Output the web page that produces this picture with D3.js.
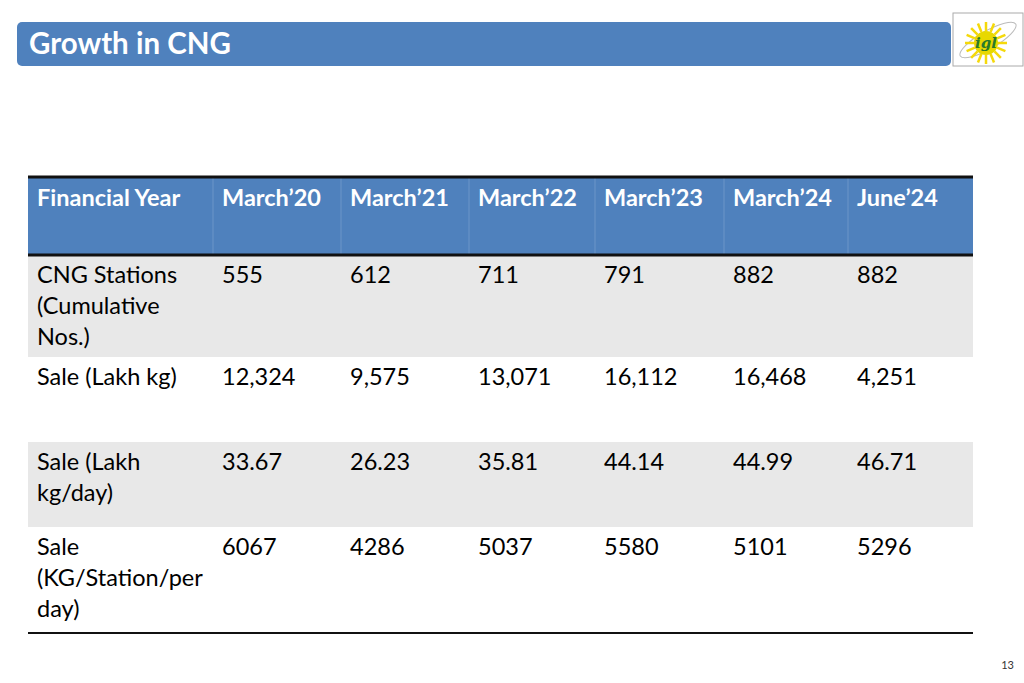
<!DOCTYPE html>
<html><head><meta charset="utf-8">
<script src="https://cdn.jsdelivr.net/npm/d3@7"></script>
<style>body{margin:0;background:#fff}svg{display:block;font-family:Lato,"Open Sans",sans-serif}</style>
</head><body>
<script>
// table content
const headers = ["Financial Year", "March\u201920", "March\u201921", "March\u201922", "March\u201923", "March\u201924", "June\u201924"];
const rowLabels = [["CNG Stations", "(Cumulative", "Nos.)"], ["Sale (Lakh kg)"], ["Sale (Lakh", "kg/day)"], ["Sale", "(KG/Station/per", "day)"]];
const stations = ["555", "612", "711", "791", "882", "882"];
const saleLakhKg = ["12,324", "9,575", "13,071", "16,112", "16,468", "4,251"];
const saleLakhKgDay = ["33.67", "26.23", "35.81", "44.14", "44.99", "46.71"];
const salePerStation = ["6067", "4286", "5037", "5580", "5101", "5296"];
const rows = [stations, saleLakhKg, saleLakhKgDay, salePerStation];

const svg = d3.select("body").append("svg").attr("width", 1024).attr("height", 683);

// title bar
svg.append("rect").attr("x", 17).attr("y", 22).attr("width", 934).attr("height", 44)
  .attr("rx", 5).attr("fill", "#4f81bd");
svg.append("text").attr("x", 29).attr("y", 54).attr("fill", "#fff")
  .attr("font-size", 29.5).attr("font-weight", "bold").text("Growth in CNG");

// logo
const logo = svg.append("g").attr("transform", "translate(953,13)");
logo.append("rect").attr("width", 70).attr("height", 53).attr("fill", "#fff").attr("stroke", "#aaa");
logo.append("ellipse").attr("cx", 35).attr("cy", 27).attr("rx", 32).attr("ry", 9)
  .attr("transform", "rotate(-30,35,27)").attr("fill", "none").attr("stroke", "#bbb");
d3.range(16).forEach(i => {
  const a = i / 16 * 2 * Math.PI;
  logo.append("line").attr("x1", 33 + Math.cos(a) * 12).attr("y1", 30 + Math.sin(a) * 12)
    .attr("x2", 33 + Math.cos(a) * 21).attr("y2", 30 + Math.sin(a) * 21)
    .attr("stroke", "#f5d90a").attr("stroke-width", 2.5);
});
logo.append("circle").attr("cx", 33).attr("cy", 30).attr("r", 12).attr("fill", "#e8d800");
logo.append("text").attr("x", 33).attr("y", 35).attr("text-anchor", "middle")
  .attr("font-size", 15).attr("font-style", "italic").attr("font-weight", "bold")
  .attr("font-family", "DejaVu Serif").attr("fill", "#2a7a2a").text("igl");

// table geometry
const colEdges = [28, 213, 341, 469, 595, 724, 848, 973];
const rowEdges = [178, 255, 357, 442, 527, 633];
const rowFill = ["#4f81bd", "#e8e8e8", "#fff", "#e8e8e8", "#fff"];

rowFill.forEach((f, i) => {
  svg.append("rect").attr("x", colEdges[0]).attr("y", rowEdges[i])
    .attr("width", colEdges[7] - colEdges[0]).attr("height", rowEdges[i + 1] - rowEdges[i]).attr("fill", f);
});
// header column dividers
colEdges.slice(1, 7).forEach(x => {
  svg.append("line").attr("x1", x).attr("x2", x).attr("y1", 178).attr("y2", 255)
    .attr("stroke", "#6d95c8").attr("stroke-width", 1);
});
[[177, 3], [255, 3], [633, 2]].forEach(([y, w]) => {
  svg.append("line").attr("x1", 28).attr("x2", 973).attr("y1", y).attr("y2", y)
    .attr("stroke", "#111").attr("stroke-width", w);
});

headers.forEach((h, i) => {
  svg.append("text").attr("x", colEdges[i] + 9).attr("y", 206).attr("fill", "#fff")
    .attr("font-size", 23.5).attr("font-weight", "bold").text(h);
});

rows.forEach((vals, r) => {
  const y0 = rowEdges[r + 1] + 28;
  rowLabels[r].forEach((t, k) => {
    svg.append("text").attr("x", colEdges[0] + 9).attr("y", y0 + k * 31)
      .attr("font-size", 23.5).attr("fill", "#000").text(t);
  });
  vals.forEach((v, c) => {
    svg.append("text").attr("x", colEdges[c + 1] + 9).attr("y", y0)
      .attr("font-size", 23.5).attr("fill", "#000").text(v);
  });
});

svg.append("text").attr("x", 1014).attr("y", 669).attr("text-anchor", "end")
  .attr("font-size", 11).attr("fill", "#333").text("13");
</script>
</body></html>
